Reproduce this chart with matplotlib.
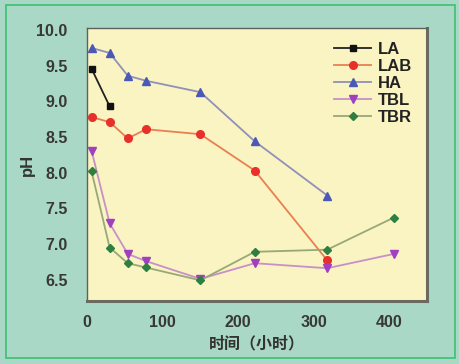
import matplotlib
matplotlib.use('Agg')
import matplotlib.pyplot as plt  # noqa
from matplotlib.patches import Rectangle

plt.rcParams['font.family'] = ['Liberation Sans', 'Noto Sans CJK SC', 'DejaVu Sans']

# data (hours, pH)
t_la = [6, 30]
ph_la = [9.46, 8.93]

t_lab = [6, 30, 54, 78, 150, 222, 318]
ph_lab = [8.78, 8.71, 8.48, 8.61, 8.54, 8.03, 6.77]

t_ha = [6, 30, 54, 78, 150, 222, 318]
ph_ha = [9.75, 9.68, 9.36, 9.29, 9.13, 8.44, 7.68]

t_tbl = [6, 30, 54, 78, 150, 222, 318, 406]
ph_tbl = [8.31, 7.29, 6.86, 6.76, 6.51, 6.73, 6.66, 6.86]

t_tbr = [6, 30, 54, 78, 150, 222, 318, 406]
ph_tbr = [8.02, 6.95, 6.73, 6.67, 6.49, 6.89, 6.92, 7.37]

xticks = [0, 100, 200, 300, 400]
yticks = [6.5, 7.0, 7.5, 8.0, 8.5, 9.0, 9.5, 10.0]

bg = '#a9d8c6'
fig = plt.figure(figsize=(4.59, 3.64), dpi=100, facecolor=bg)
# outer green frame
fig.patches.append(Rectangle((0.013, 0.016), 0.978, 0.97, transform=fig.transFigure,
                             fill=False, edgecolor='#3cc070', lw=1.2))

ax = fig.add_axes([87 / 459, 1 - 301 / 364, 340 / 459, 273 / 364])
ax.set_facecolor('#faf3c2')

series = [
    ('LA', t_la, ph_la, 's', '#111111', '#222222', 4.5),
    ('LAB', t_lab, ph_lab, 'o', '#e8302a', '#e88050', 5.5),
    ('HA', t_ha, ph_ha, '^', '#4a58b8', '#9090b8', 5.5),
    ('TBL', t_tbl, ph_tbl, 'v', '#a040c0', '#c890c8', 5.5),
    ('TBR', t_tbr, ph_tbr, 'D', '#2e8040', '#98a878', 4.5),
]
for name, x, y, m, mc, lc, ms in series:
    ax.plot(x, y, color=lc, lw=1.3, marker=m, ms=ms, mfc=mc, mec=mc, label=name)

ax.set_xlim(0, 450)
ax.set_ylim(6.2, 10.03)
ax.set_xticks(xticks)
ax.set_yticks(yticks)
ax.set_yticklabels(['{:.1f}'.format(v) for v in yticks])
ax.tick_params(length=0, labelsize=11.5, colors='#383838', pad=14)
ax.tick_params(axis='x', pad=10)
for lab in ax.get_xticklabels() + ax.get_yticklabels():
    lab.set_fontweight('bold')

for s in ax.spines.values():
    s.set_color('#606060')
    s.set_linewidth(1.0)
for side in ['right', 'bottom']:
    ax.spines[side].set_linewidth(2.2)
    ax.spines[side].set_color('#6a6a60')

ax.set_xlabel('时间（小时）', fontsize=11.5, fontweight='bold', color='#333333',
              family=['Noto Sans CJK SC', 'DejaVu Sans'], labelpad=4)
ax.set_ylabel('pH', fontsize=12, fontweight='bold', color='#333333', labelpad=1)

leg = ax.legend(loc='upper right', bbox_to_anchor=(0.985, 0.985), frameon=False,
                fontsize=12, handlelength=2.2, handletextpad=0.4,
                labelspacing=0.12, borderaxespad=0.2)
for txt in leg.get_texts():
    txt.set_fontweight('bold')
    txt.set_color('#222222')

fig.savefig('out.png', dpi=100, facecolor=bg)
